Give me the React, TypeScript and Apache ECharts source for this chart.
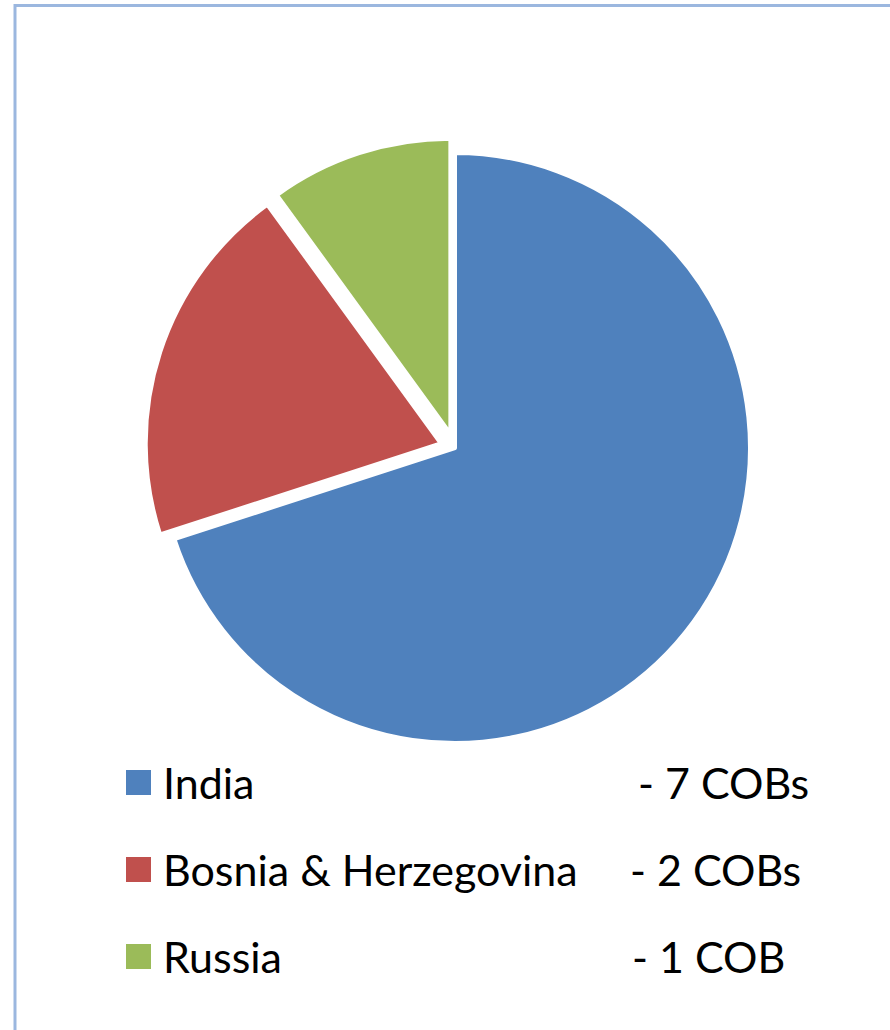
import React, { useEffect, useRef } from "react";
import * as echarts from "echarts";

const countries = ["India", "Bosnia & Herzegovina", "Russia"];
const cobCounts = [7, 2, 1];
const countLabels = ["- 7 COBs", "- 2 COBs", "- 1 COB"];
const explodedSlices = [false, true, true];
const sliceColors = ["#4F81BD", "#C0504D", "#9BBB59"];

const FONT = "Lato, 'Open Sans', sans-serif";

export default function App() {
  const ref = useRef<HTMLDivElement>(null);

  useEffect(() => {
    if (!ref.current) return;
    const chart = echarts.init(ref.current, null, { renderer: "svg" });
    const nameWidths = [475, 467, 469];
    const rich: any = {
      s: { width: 6, lineHeight: 40 },
      v: { fontSize: 43, fontFamily: FONT, color: "#000", lineHeight: 40 },
    };
    countries.forEach((_, i) => {
      rich["n" + i] = {
        width: nameWidths[i],
        fontSize: 43,
        fontFamily: FONT,
        color: "#000",
        lineHeight: 40,
      };
    });
    chart.setOption({
      animation: false,
      color: sliceColors,
      graphic: [
        {
          type: "rect",
          shape: { x: 15, y: 5.5, width: 900, height: 1100 },
          style: { fill: "none", stroke: "#9BB7DF", lineWidth: 3 },
          silent: true,
        },
      ],
      legend: {
        orient: "vertical",
        left: 124,
        top: 761,
        padding: 0,
        itemWidth: 27,
        itemHeight: 27,
        itemGap: 44,
        icon: "rect",
        selectedMode: false,
        data: countries,
        formatter: (name: string) => {
          const i = countries.indexOf(name);
          return `{s|}{n${i}|${name}}{v|${countLabels[i]}}`;
        },
        textStyle: { lineHeight: 40, rich },
      },
      series: [
        {
          type: "pie",
          center: [455, 448],
          radius: 295,
          startAngle: 90,
          clockwise: true,
          selectedMode: "multiple",
          selectedOffset: 15,
          label: { show: false },
          labelLine: { show: false },
          emphasis: { disabled: true },
          itemStyle: { borderColor: "#fff", borderWidth: 4 },
          data: countries.map((c, i) => ({
            name: c,
            value: cobCounts[i],
            selected: explodedSlices[i],
          })),
        },
      ],
    });
    return () => chart.dispose();
  }, []);

  return (
    <div
      ref={ref}
      style={{ position: "absolute", left: 0, top: 0, width: 890, height: 1030, background: "#fff" }}
    />
  );
}
